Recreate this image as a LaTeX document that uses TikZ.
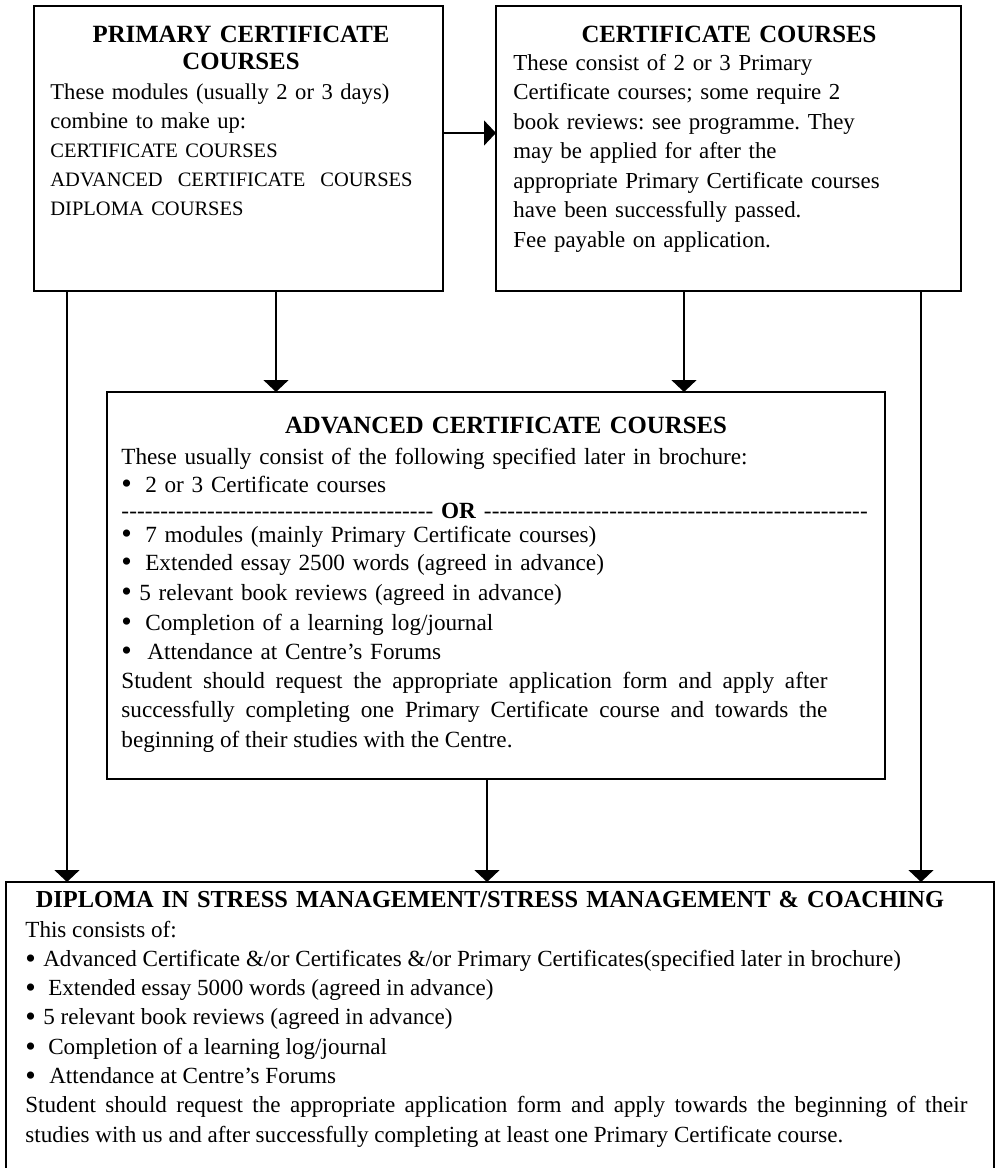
\documentclass[tikz,border=0pt]{standalone}
\usepackage{fontspec}
\setmainfont{Liberation Serif}
\usetikzlibrary{arrows.meta,positioning}
\frenchspacing
\newcommand{\dashrun}[1]{\hbox to #1{\xleaders\hbox{-}\hfill}}
\newcommand{\bul}[1]{\raisebox{-0.9pt}{\fontsize{15}{15}\selectfont\textbullet}\hspace{#1}\hspace{-1.2pt}}
\newcommand{\capsz}{\fontsize{10.25}{14.6}\selectfont}

\begin{document}
\begin{tikzpicture}[x=0.5pt,y=-0.5pt,
  box/.style={draw,line width=0.9pt,anchor=north west,inner sep=0pt,outer sep=0pt},
  ttl/.style={font=\fontsize{12.4}{13.5}\selectfont\bfseries,align=center,anchor=base,inner sep=0pt},
  txt/.style={font=\fontsize{11.5}{14.6}\selectfont,align=left,anchor=base west,inner sep=0pt},
  arr/.style={-{Triangle[length=6pt,width=12.5pt]},line width=0.7pt}]
  \useasboundingbox (0,0) rectangle (998,1168);
  \clip (0,0) rectangle (998,1168);
  \node[box,minimum width=204.5pt,minimum height=142.5pt] (pcc) at (34,6) {};
  \node[box,minimum width=232.5pt,minimum height=142.5pt] (cc) at (496,6) {};
  \node[box,minimum width=389pt,minimum height=193.5pt] (acc) at (107,392) {};
  \node[box,minimum width=494pt,minimum height=160pt] (dip) at (6,882) {};

  \node[ttl,text width=195pt] (pcct) at (241,42) {PRIMARY CERTIFICATE\\COURSES};
  \node[txt,text width=195pt,font=\fontsize{11.3}{14.6}\selectfont] (pccb) at (50,99) {These modules (usually 2 or 3 days)\\
    combine to make up:\\
    {\capsz CERTIFICATE COURSES}\\
    {\capsz ADVANCED\ \ CERTIFICATE\ \ COURSES}\\
    {\capsz DIPLOMA COURSES}};

  \node[ttl,text width=225pt] (cct) at (729,42) {CERTIFICATE COURSES};
  \node[txt,text width=215pt,font=\fontsize{11.45}{14.75}\selectfont] (ccb) at (513,70) {These consist of 2 or 3 Primary\\
    Certificate courses; some require 2\\
    book reviews: see programme. They\\
    may be applied for after the\\
    appropriate Primary Certificate courses\\
    have been successfully passed.\\
    Fee payable on application.};

  \node[ttl,text width=380pt] (acct) at (506,433) {ADVANCED CERTIFICATE COURSES};
  \node[txt,text width=380pt,font=\fontsize{11.6}{14}\selectfont] (accb) at (121,464) {These usually consist of the following specified later in brochure:\\
    \bul{7.9pt}2 or 3 Certificate courses\\[-1pt]
    \mbox{\dashrun{156pt}\ \textbf{OR}\ \dashrun{192pt}}\\[-2pt]
    \bul{7.9pt}7 modules (mainly Primary Certificate courses)\\
    \bul{7.9pt}Extended essay 2500 words (agreed in advance)\\[1pt]
    \bul{4.9pt}5 relevant book reviews (agreed in advance)\\[1pt]
    \bul{7.9pt}Completion of a learning log/journal\\[0.5pt]
    \bul{8.9pt}Attendance at Centre’s Forums};
  \node[txt,text width=353pt,align=justify,font=\fontsize{11.6}{14.75}\selectfont] (accp) at (121,688) {Student should request the appropriate application form and apply after\linebreak
    successfully completing one Primary Certificate course and towards the\linebreak
    beginning of their studies with the Centre.};

  \node[ttl,text width=485pt,font=\fontsize{12.2}{14}\selectfont\bfseries] (dipt) at (490,907) {DIPLOMA IN STRESS MANAGEMENT/STRESS MANAGEMENT \& COACHING};
  \node[txt,text width=471pt,align=justify,font=\fontsize{11.55}{14.65}\selectfont] (dipb) at (25,937) {This consists of:\\
    \bul{4.9pt}Advanced Certificate \&/or Certificates \&/or Primary Certificates(specified later in brochure)\\
    \bul{7.4pt}Extended essay 5000 words (agreed in advance)\\
    \bul{4.9pt}5 relevant book reviews (agreed in advance)\\
    \bul{7.4pt}Completion of a learning log/journal\\
    \bul{7.9pt}Attendance at Centre’s Forums\\
    Student should request the appropriate application form and apply towards the beginning of their\linebreak
    studies with us and after successfully completing at least one Primary Certificate course.};

  \draw[arr] (pcc.east |- 0,133) -- (cc.west |- 0,133);
  \draw[arr] (pcc.south -| 276,0) -- (acc.north -| 276,0);
  \draw[arr] (cc.south -| 684,0) -- (acc.north -| 684,0);
  \draw[arr] (pcc.south -| 67,0) -- (dip.north -| 67,0);
  \draw[arr] (cc.south -| 921,0) -- (dip.north -| 921,0);
  \draw[arr] (acc.south -| 487,0) -- (dip.north -| 487,0);
\end{tikzpicture}
\end{document}
